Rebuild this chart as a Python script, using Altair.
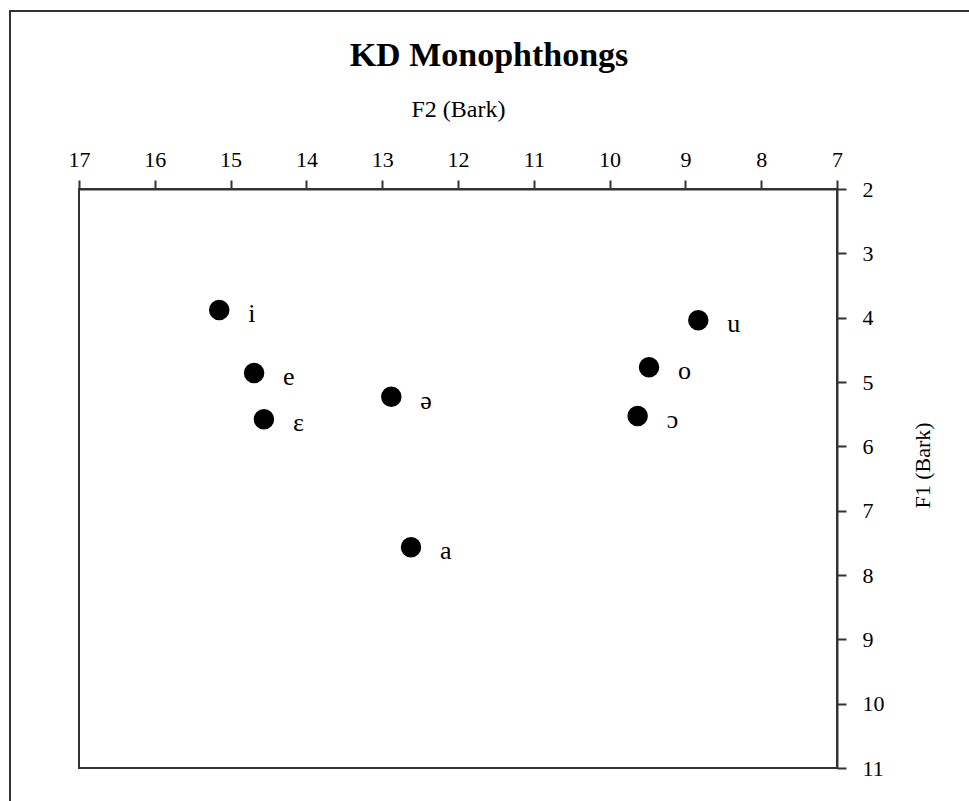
import altair as alt
import pandas as pd

# Vowel formant means (Bark)
vowels = ["i", "e", "ɛ", "ə", "a", "u", "o", "ɔ"]
f2_bark = [15.15, 14.69, 14.56, 12.88, 12.62, 8.83, 9.48, 9.63]
f1_bark = [3.88, 4.86, 5.58, 5.23, 7.57, 4.04, 4.77, 5.53]

f2_ticks = list(range(7, 18))
f1_ticks = list(range(2, 12))

chart_title = "KD Monophthongs"

df = pd.DataFrame({"vowel": vowels, "F2": f2_bark, "F1": f1_bark})

SERIF = "Liberation Serif"

x_enc = alt.X(
    "F2:Q",
    scale=alt.Scale(domain=[7, 17], reverse=True, nice=False, zero=False),
    axis=alt.Axis(
        orient="top",
        title="F2 (Bark)",
        values=f2_ticks,
        format="d",
        grid=False,
        tickSize=9,
        labelPadding=9,
        labelFlush=False,
        titlePadding=27,
        titleFontSize=24,
    ),
)
y_enc = alt.Y(
    "F1:Q",
    scale=alt.Scale(domain=[2, 11], reverse=True, nice=False, zero=False),
    axis=alt.Axis(
        orient="right",
        title="F1 (Bark)",
        titleAngle=270,
        titleY=276,
        values=f1_ticks,
        format="d",
        grid=False,
        tickSize=9,
        labelPadding=16,
        labelFlush=False,
        titlePadding=50,
    ),
)

points = alt.Chart(df).mark_circle(size=420, color="black", opacity=1).encode(x=x_enc, y=y_enc)

labels = alt.Chart(df).mark_text(
    align="left", baseline="middle", dx=29, dy=4, font=SERIF, fontSize=26, color="black"
).encode(x="F2:Q", y="F1:Q", text="vowel:N")

# heading drawn above the top axis
heading = alt.Chart(alt.Data(values=[{"t": chart_title}])).mark_text(
    font=SERIF, fontSize=34, fontWeight="bold", color="black", align="center", baseline="middle"
).encode(x=alt.value(410), y=alt.value(-133), text="t:N")

# frame around the whole figure
border = alt.Chart(alt.Data(values=[{}])).mark_rect(
    fill=None, stroke="#333333", strokeWidth=2
).encode(
    x=alt.value(-69), y=alt.value(-178), x2=alt.value(900), y2=alt.value(624)
)

chart = (
    alt.layer(border, points, labels, heading)
    .properties(
        width=758,
        height=579,
        autosize=alt.AutoSizeParams(type="none"),
        padding={"left": 79, "top": 189, "right": 132, "bottom": 33},
        background="white",
    )
    .configure_view(stroke="#333333", strokeWidth=2)
    .configure_axis(
        domainColor="#333333",
        domainWidth=2,
        tickColor="#333333",
        tickWidth=2,
        labelFont=SERIF,
        labelFontSize=22,
        labelColor="black",
        titleFont=SERIF,
        titleFontSize=22,
        titleFontWeight="normal",
        titleColor="black",
    )
)

chart.save("out.html", embed_options={"renderer": "svg", "actions": False})
